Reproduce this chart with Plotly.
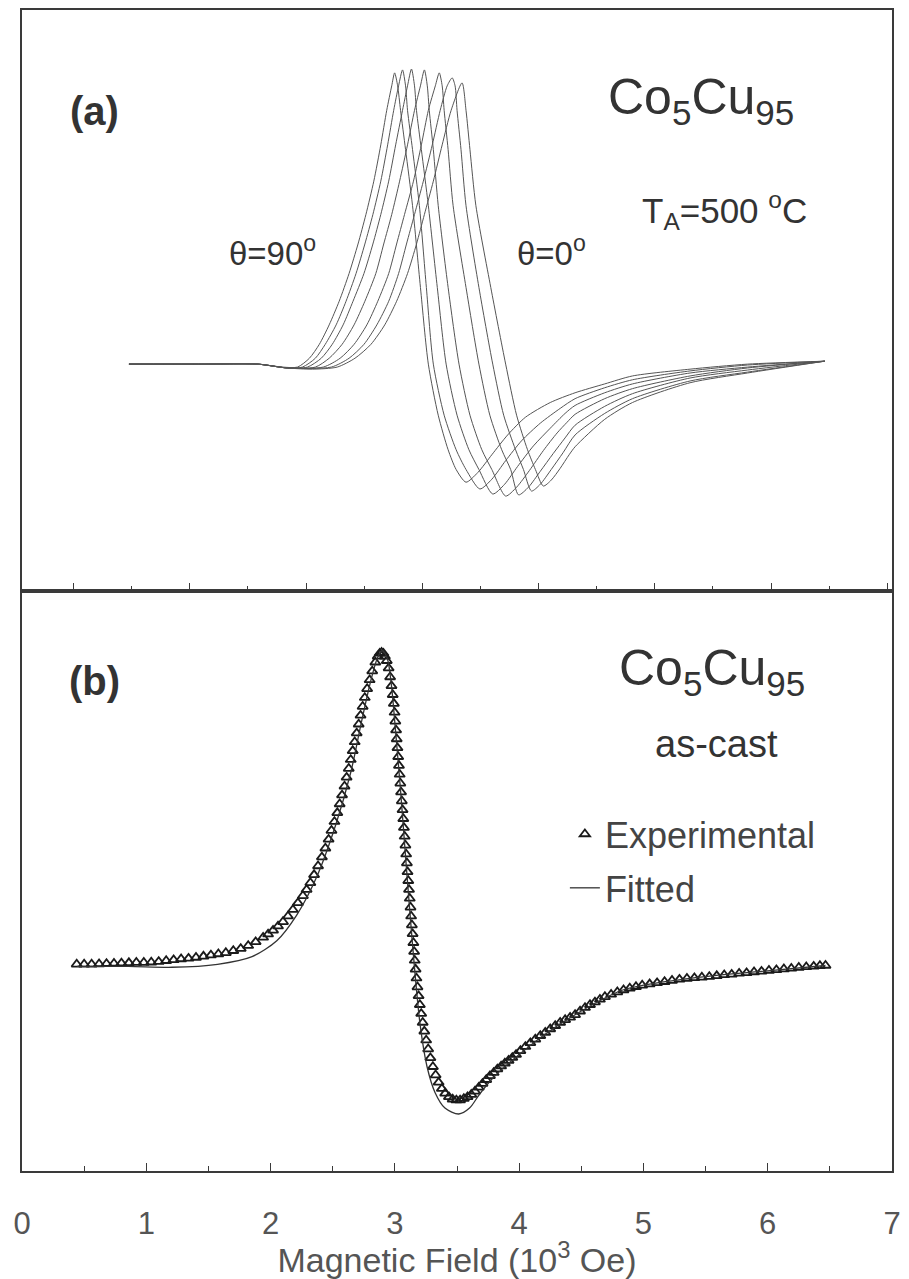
import plotly.graph_objects as go

# ---------------- Panel (a): Co5Cu95, TA = 500 C, seven field angles ----------------
a_labels = ["θ=90°", "c2", "c3", "c4", "c5", "c6", "θ=0°"]
a_x = [
    [0.477, 1.074, 1.586, 1.799, 1.927, 2.029, 2.114, 2.199, 2.285, 2.370, 2.447, 2.515, 2.583, 2.643, 2.694, 2.737, 2.762, 2.788, 2.813, 2.856, 2.916, 2.984, 3.052, 3.137, 3.222, 3.291, 3.376, 3.478, 3.598, 3.734, 3.887, 4.101, 4.314, 4.569, 4.808, 5.303, 5.797, 6.462],
    [0.477, 1.074, 1.586, 1.841, 1.969, 2.080, 2.165, 2.259, 2.344, 2.430, 2.506, 2.575, 2.643, 2.702, 2.754, 2.796, 2.830, 2.856, 2.873, 2.916, 2.975, 3.035, 3.095, 3.188, 3.291, 3.376, 3.495, 3.598, 3.717, 3.853, 4.015, 4.186, 4.314, 4.569, 4.808, 5.303, 5.797, 6.462],
    [0.477, 1.074, 1.586, 1.841, 2.012, 2.131, 2.225, 2.319, 2.404, 2.498, 2.575, 2.643, 2.711, 2.771, 2.830, 2.873, 2.907, 2.933, 2.950, 2.992, 3.052, 3.129, 3.205, 3.299, 3.401, 3.487, 3.606, 3.708, 3.819, 3.956, 4.101, 4.228, 4.314, 4.569, 4.808, 5.303, 5.797, 6.462],
    [0.477, 1.074, 1.586, 1.841, 2.080, 2.199, 2.310, 2.413, 2.506, 2.600, 2.668, 2.737, 2.805, 2.873, 2.933, 2.984, 3.018, 3.043, 3.060, 3.095, 3.137, 3.222, 3.316, 3.410, 3.512, 3.598, 3.717, 3.811, 3.922, 4.041, 4.160, 4.245, 4.314, 4.569, 4.808, 5.303, 5.797, 6.462],
    [0.477, 1.074, 1.586, 1.841, 2.148, 2.293, 2.413, 2.523, 2.617, 2.711, 2.779, 2.847, 2.924, 2.992, 3.052, 3.112, 3.146, 3.171, 3.188, 3.222, 3.265, 3.376, 3.487, 3.581, 3.683, 3.760, 3.828, 3.913, 4.015, 4.126, 4.228, 4.314, 4.569, 4.808, 5.303, 5.797, 6.462],
    [0.477, 1.074, 1.586, 1.841, 2.217, 2.370, 2.498, 2.609, 2.711, 2.796, 2.864, 2.933, 3.009, 3.086, 3.154, 3.214, 3.257, 3.282, 3.299, 3.333, 3.376, 3.487, 3.606, 3.700, 3.802, 3.870, 3.939, 4.015, 4.109, 4.211, 4.314, 4.569, 4.808, 5.303, 5.797, 6.462],
    [0.477, 1.074, 1.586, 1.841, 2.055, 2.268, 2.421, 2.558, 2.677, 2.779, 2.873, 2.950, 3.018, 3.095, 3.171, 3.248, 3.342, 3.376, 3.410, 3.461, 3.589, 3.717, 3.811, 3.905, 3.973, 4.041, 4.109, 4.186, 4.263, 4.314, 4.569, 4.808, 5.303, 5.797, 6.462],
]
a_y = [
    [0, 0, 0, -0.010, -0.010, 0.020, 0.067, 0.133, 0.213, 0.307, 0.407, 0.507, 0.620, 0.743, 0.860, 0.943, 0.987, 0.943, 0.860, 0.727, 0.537, 0.260, 0, -0.173, -0.290, -0.357, -0.400, -0.367, -0.307, -0.240, -0.180, -0.130, -0.097, -0.067, -0.040, -0.017, 0, 0.010],
    [0, 0, 0, -0.013, -0.010, 0.020, 0.067, 0.133, 0.213, 0.307, 0.407, 0.507, 0.620, 0.743, 0.860, 0.943, 0.997, 0.943, 0.860, 0.727, 0.537, 0.260, 0, -0.173, -0.290, -0.357, -0.423, -0.390, -0.327, -0.260, -0.200, -0.150, -0.117, -0.080, -0.053, -0.023, -0.003, 0.010],
    [0, 0, 0, -0.013, -0.010, 0.020, 0.067, 0.133, 0.213, 0.307, 0.407, 0.507, 0.620, 0.743, 0.860, 0.943, 1.000, 0.943, 0.860, 0.727, 0.537, 0.260, 0, -0.173, -0.290, -0.357, -0.440, -0.407, -0.347, -0.277, -0.217, -0.167, -0.140, -0.097, -0.067, -0.030, -0.010, 0.010],
    [0, 0, 0, -0.013, -0.010, 0.020, 0.067, 0.133, 0.213, 0.307, 0.407, 0.507, 0.620, 0.743, 0.860, 0.943, 0.997, 0.943, 0.860, 0.727, 0.537, 0.260, 0, -0.173, -0.290, -0.357, -0.447, -0.417, -0.360, -0.293, -0.233, -0.197, -0.170, -0.117, -0.083, -0.040, -0.013, 0.010],
    [0, 0, 0, -0.013, -0.010, 0.020, 0.067, 0.133, 0.213, 0.307, 0.407, 0.507, 0.620, 0.743, 0.860, 0.943, 0.987, 0.943, 0.860, 0.727, 0.537, 0.260, 0, -0.173, -0.290, -0.357, -0.443, -0.417, -0.363, -0.303, -0.250, -0.207, -0.143, -0.100, -0.047, -0.020, 0.010],
    [0, 0, 0, -0.013, -0.010, 0.020, 0.067, 0.133, 0.213, 0.307, 0.407, 0.507, 0.620, 0.743, 0.860, 0.943, 0.970, 0.943, 0.860, 0.727, 0.537, 0.260, 0, -0.173, -0.290, -0.357, -0.430, -0.407, -0.357, -0.300, -0.240, -0.167, -0.117, -0.057, -0.027, 0.010],
    [0, 0, 0, -0.013, -0.017, -0.010, 0.020, 0.067, 0.133, 0.213, 0.307, 0.407, 0.507, 0.620, 0.743, 0.860, 0.953, 0.860, 0.727, 0.537, 0.260, 0, -0.173, -0.290, -0.357, -0.413, -0.393, -0.353, -0.307, -0.280, -0.187, -0.130, -0.063, -0.030, 0.010],
]

# ---------------- Panel (b): Co5Cu95 as-cast, experimental + fitted ----------------
exp_x = [0.44, 0.50, 0.56, 0.62, 0.68, 0.74, 0.80, 0.86, 0.92, 0.98,
         1.04, 1.10, 1.16, 1.22, 1.28, 1.34, 1.40, 1.46, 1.52, 1.58,
         1.64, 1.70, 1.76, 1.82, 1.88,
         1.94, 1.98, 2.02, 2.06, 2.10, 2.14, 2.18, 2.22, 2.26, 2.29, 2.32,
         2.350, 2.382, 2.413, 2.441, 2.467, 2.490, 2.514, 2.537, 2.556, 2.575,
         2.595, 2.612, 2.629, 2.645, 2.661, 2.677, 2.693, 2.709, 2.724, 2.741,
         2.758, 2.777, 2.797, 2.818, 2.843, 2.862, 2.878, 2.893,
         2.908, 2.920, 2.935, 2.950, 2.962, 2.973, 2.983, 2.992, 2.998, 3.004,
         3.010, 3.015, 3.021, 3.027, 3.033, 3.039, 3.044, 3.050, 3.056, 3.062,
         3.068, 3.073, 3.079, 3.085, 3.091, 3.097, 3.102, 3.108, 3.114, 3.120,
         3.126, 3.131, 3.137, 3.143, 3.149, 3.155, 3.160, 3.167, 3.174, 3.182,
         3.191, 3.201, 3.212, 3.224, 3.237, 3.252, 3.268, 3.286, 3.306, 3.328,
         3.352, 3.378, 3.405, 3.435, 3.465, 3.495, 3.525, 3.555,
         3.585, 3.615, 3.645, 3.675, 3.705, 3.735, 3.765, 3.795, 3.825, 3.855,
         3.885, 3.915, 3.945, 3.975, 4.01, 4.05, 4.09, 4.13, 4.17, 4.21,
         4.25, 4.29, 4.33, 4.37, 4.41, 4.45, 4.49, 4.53, 4.57, 4.61,
         4.65, 4.69, 4.74, 4.79, 4.84, 4.89, 4.94, 4.99, 5.05, 5.11,
         5.17, 5.23, 5.29, 5.35, 5.41, 5.47, 5.53, 5.59, 5.65, 5.71,
         5.77, 5.83, 5.89, 5.95, 6.01, 6.07, 6.13, 6.19, 6.25, 6.31,
         6.37, 6.42, 6.465]
exp_y = [-0.003, -0.003, -0.003, -0.002, -0.001, 0.000, 0.001, 0.002, 0.003, 0.003,
         0.004, 0.006, 0.009, 0.012, 0.015, 0.017, 0.020, 0.024, 0.028, 0.032,
         0.036, 0.043, 0.050, 0.060, 0.073,
         0.088, 0.099, 0.112, 0.126, 0.141, 0.160, 0.182, 0.205, 0.229, 0.250, 0.273,
         0.300, 0.330, 0.360, 0.390, 0.420, 0.450, 0.480, 0.510, 0.540, 0.570,
         0.600, 0.630, 0.660, 0.690, 0.720, 0.750, 0.780, 0.810, 0.840, 0.870,
         0.900, 0.930, 0.960, 0.990, 1.020, 1.040, 1.050, 1.053,
         1.050, 1.040, 1.025, 1.000, 0.970, 0.940, 0.910, 0.880, 0.850, 0.820,
         0.790, 0.760, 0.730, 0.700, 0.670, 0.640, 0.610, 0.580, 0.550, 0.520,
         0.490, 0.460, 0.430, 0.400, 0.370, 0.340, 0.310, 0.280, 0.250, 0.220,
         0.190, 0.160, 0.130, 0.100, 0.070, 0.040, 0.010, -0.020, -0.050, -0.080,
         -0.110, -0.140, -0.170, -0.200, -0.230, -0.260, -0.290, -0.320, -0.350, -0.378,
         -0.403, -0.424, -0.440, -0.452, -0.460, -0.463, -0.463, -0.458,
         -0.452, -0.444, -0.433, -0.420, -0.407, -0.394, -0.381, -0.370, -0.358, -0.348,
         -0.338, -0.329, -0.319, -0.309, -0.296, -0.282, -0.269, -0.257, -0.245, -0.234,
         -0.222, -0.211, -0.200, -0.191, -0.183, -0.174, -0.162, -0.150, -0.140, -0.131,
         -0.122, -0.113, -0.105, -0.097, -0.090, -0.084, -0.079, -0.074, -0.070, -0.066,
         -0.062, -0.058, -0.054, -0.051, -0.049, -0.047, -0.045, -0.042, -0.039, -0.037,
         -0.034, -0.032, -0.029, -0.027, -0.024, -0.022, -0.019, -0.017, -0.014, -0.012,
         -0.010, -0.008, -0.007]

fit_x = [0.443, 0.857, 1.207, 1.573, 1.851, 2.050, 2.209, 2.368, 2.527, 2.647,
         2.726, 2.806, 2.862, 2.901, 2.941, 2.973, 3.005, 3.045, 3.084, 3.124,
         3.164, 3.204, 3.259, 3.323, 3.403, 3.514, 3.601, 3.681, 3.800, 3.959,
         4.198, 4.437, 4.834, 5.391, 5.948, 6.465]
fit_y = [-0.010, -0.010, -0.013, -0.003, 0.023, 0.077, 0.163, 0.290, 0.473, 0.650,
         0.807, 0.957, 1.037, 1.060, 1.030, 0.940, 0.790, 0.590, 0.373, 0.157,
         -0.043, -0.210, -0.350, -0.437, -0.490, -0.510, -0.490, -0.443, -0.383, -0.323,
         -0.243, -0.177, -0.090, -0.050, -0.027, -0.007]

x_ticks = [0, 1, 2, 3, 4, 5, 6, 7]
x_title = "Magnetic Field (10<sup>3</sup> Oe)"

FONT = "Liberation Sans, Arial, sans-serif"
FRAME = "#3a3a3a"

fig = go.Figure()
for xs, ys, nm in zip(a_x, a_y, a_labels):
    fig.add_trace(go.Scatter(x=xs, y=ys, mode="lines", name=nm, showlegend=False,
                             line=dict(color="#555", width=1, shape="spline", smoothing=0.7),
                             xaxis="x2", yaxis="y2"))

fig.add_trace(go.Scatter(x=exp_x, y=exp_y, mode="markers", name="Experimental",
                         legendgroup="e",
                         marker=dict(symbol="triangle-up-open", size=9, color="#1a1a1a",
                                     line=dict(width=1.8, color="#1a1a1a")),
                         xaxis="x", yaxis="y"))
fig.add_trace(go.Scatter(x=fit_x, y=fit_y, mode="lines", name="Fitted",
                         legendgroup="f",
                         line=dict(color="#333", width=1.3, shape="spline", smoothing=0.8),
                         xaxis="x", yaxis="y"))

axis_common = dict(showgrid=False, zeroline=False, showline=True, linecolor=FRAME,
                   linewidth=1.5, mirror=True)

fig.update_layout(
    width=909, height=1279,
    margin=dict(l=22, r=9, t=8, b=91),
    paper_bgcolor="white", plot_bgcolor="white",
    font=dict(family=FONT, color="#333"),
    xaxis=dict(**axis_common, range=[0, 7], tickvals=x_ticks,
               ticktext=[str(v) for v in x_ticks],
               ticks="inside", ticklen=8, tickwidth=1.2, tickcolor=FRAME,
               minor=dict(dtick=0.5, ticks="inside", ticklen=5, tickcolor=FRAME, tickwidth=1),
               tickfont=dict(size=31, color="#555"), ticklabelstandoff=24,
               title=dict(text=x_title, font=dict(size=34, color="#555"), standoff=6),
               anchor="y", domain=[0, 1]),
    yaxis=dict(**axis_common, range=[-0.703, 1.263], showticklabels=False, ticks="",
               domain=[0, 0.5], anchor="x"),
    xaxis2=dict(**axis_common, range=[-0.443, 7.04], dtick=1, tick0=0,
                ticks="inside", ticklen=8, tickwidth=1.2, tickcolor=FRAME,
                minor=dict(dtick=0.5, ticks="inside", ticklen=5, tickcolor=FRAME, tickwidth=1),
                showticklabels=False, anchor="y2", domain=[0, 1]),
    yaxis2=dict(**axis_common, range=[-0.767, 1.2], showticklabels=False, ticks="",
                domain=[0.5, 1], anchor="x2"),
    legend=dict(x=0.624, y=0.316, xanchor="left", yanchor="top",
                font=dict(size=36, color="#444"), bgcolor="rgba(0,0,0,0)",
                tracegroupgap=4, itemwidth=30),
    showlegend=True,
)

ann = [
    dict(text="<b>(a)</b>", x=0.083, y=0.913, size=40),
    dict(text="Co<sub>5</sub>Cu<sub>95</sub>", x=0.781, y=0.922, size=50),
    dict(text="T<sub>A</sub>=500 <sup>o</sup>C", x=0.808, y=0.827, size=35),
    dict(text="θ=90<sup>o</sup>", x=0.288, y=0.792, size=33),
    dict(text="θ=0<sup>o</sup>", x=0.609, y=0.792, size=33),
    dict(text="<b>(b)</b>", x=0.083, y=0.422, size=40),
    dict(text="Co<sub>5</sub>Cu<sub>95</sub>", x=0.793, y=0.430, size=50),
    dict(text="as-cast", x=0.798, y=0.368, size=38),
]
for a in ann:
    fig.add_annotation(text=a["text"], x=a["x"], y=a["y"], xref="paper", yref="paper",
                       showarrow=False, xanchor="center", yanchor="middle",
                       font=dict(size=a["size"], family=FONT, color="#333"))

fig.write_html("out.html")
